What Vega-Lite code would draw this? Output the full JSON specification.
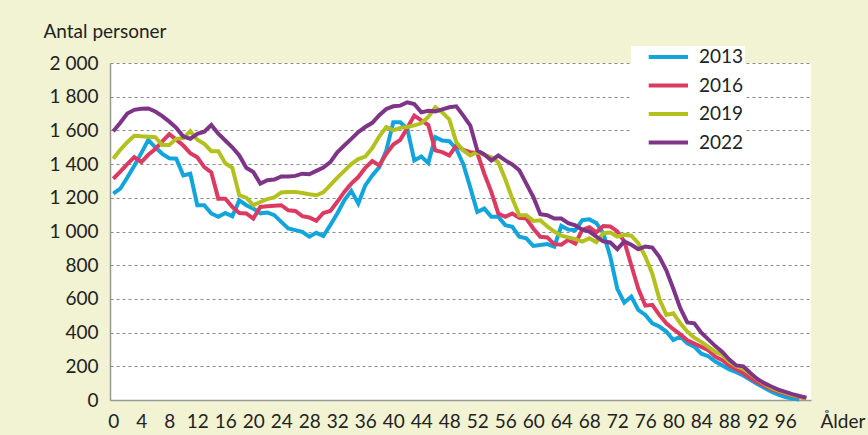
{
"$schema": "https://vega.github.io/schema/vega-lite/v6.json",
"width": 701, "height": 337,
"autosize": {"type": "none"},
"padding": {"left": 110, "top": 63, "right": 57, "bottom": 35},
"background": "#F2F3D3",
"config": {"view": {"fill": "white", "stroke": null}, "font": "Lato"},
"data": {"values": [
{"age":0,"year":"2013","value":1225},{"age":1,"year":"2013","value":1254},{"age":2,"year":"2013","value":1320},{"age":3,"year":"2013","value":1390},{"age":4,"year":"2013","value":1465},{"age":5,"year":"2013","value":1544},{"age":6,"year":"2013","value":1500},{"age":7,"year":"2013","value":1461},{"age":8,"year":"2013","value":1435},{"age":9,"year":"2013","value":1432},
{"age":10,"year":"2013","value":1333},{"age":11,"year":"2013","value":1343},{"age":12,"year":"2013","value":1156},{"age":13,"year":"2013","value":1156},{"age":14,"year":"2013","value":1107},{"age":15,"year":"2013","value":1087},{"age":16,"year":"2013","value":1110},{"age":17,"year":"2013","value":1090},{"age":18,"year":"2013","value":1185},{"age":19,"year":"2013","value":1156},
{"age":20,"year":"2013","value":1136},{"age":21,"year":"2013","value":1108},{"age":22,"year":"2013","value":1113},{"age":23,"year":"2013","value":1097},{"age":24,"year":"2013","value":1057},{"age":25,"year":"2013","value":1018},{"age":26,"year":"2013","value":1008},{"age":27,"year":"2013","value":998},{"age":28,"year":"2013","value":969},{"age":29,"year":"2013","value":992},
{"age":30,"year":"2013","value":973},{"age":31,"year":"2013","value":1038},{"age":32,"year":"2013","value":1107},{"age":33,"year":"2013","value":1185},{"age":34,"year":"2013","value":1241},{"age":35,"year":"2013","value":1166},{"age":36,"year":"2013","value":1274},{"age":37,"year":"2013","value":1333},{"age":38,"year":"2013","value":1382},{"age":39,"year":"2013","value":1481},
{"age":40,"year":"2013","value":1648},{"age":41,"year":"2013","value":1648},{"age":42,"year":"2013","value":1609},{"age":43,"year":"2013","value":1422},{"age":44,"year":"2013","value":1445},{"age":45,"year":"2013","value":1406},{"age":46,"year":"2013","value":1560},{"age":47,"year":"2013","value":1540},{"age":48,"year":"2013","value":1536},{"age":49,"year":"2013","value":1491},
{"age":50,"year":"2013","value":1400},{"age":51,"year":"2013","value":1260},{"age":52,"year":"2013","value":1116},{"age":53,"year":"2013","value":1136},{"age":54,"year":"2013","value":1087},{"age":55,"year":"2013","value":1087},{"age":56,"year":"2013","value":1038},{"age":57,"year":"2013","value":1028},{"age":58,"year":"2013","value":969},{"age":59,"year":"2013","value":959},
{"age":60,"year":"2013","value":914},{"age":61,"year":"2013","value":920},{"age":62,"year":"2013","value":925},{"age":63,"year":"2013","value":910},{"age":64,"year":"2013","value":1033},{"age":65,"year":"2013","value":1012},{"age":66,"year":"2013","value":1008},{"age":67,"year":"2013","value":1067},{"age":68,"year":"2013","value":1072},{"age":69,"year":"2013","value":1050},
{"age":70,"year":"2013","value":990},{"age":71,"year":"2013","value":850},{"age":72,"year":"2013","value":660},{"age":73,"year":"2013","value":578},{"age":74,"year":"2013","value":614},{"age":75,"year":"2013","value":535},{"age":76,"year":"2013","value":505},{"age":77,"year":"2013","value":455},{"age":78,"year":"2013","value":436},{"age":79,"year":"2013","value":406},
{"age":80,"year":"2013","value":356},{"age":81,"year":"2013","value":376},{"age":82,"year":"2013","value":337},{"age":83,"year":"2013","value":317},{"age":84,"year":"2013","value":275},{"age":85,"year":"2013","value":260},{"age":86,"year":"2013","value":228},{"age":87,"year":"2013","value":205},{"age":88,"year":"2013","value":182},{"age":89,"year":"2013","value":165},
{"age":90,"year":"2013","value":145},{"age":91,"year":"2013","value":120},{"age":92,"year":"2013","value":95},{"age":93,"year":"2013","value":72},{"age":94,"year":"2013","value":50},{"age":95,"year":"2013","value":32},{"age":96,"year":"2013","value":18},{"age":97,"year":"2013","value":8},{"age":98,"year":"2013","value":3},

{"age":0,"year":"2016","value":1313},{"age":1,"year":"2016","value":1355},{"age":2,"year":"2016","value":1400},{"age":3,"year":"2016","value":1441},{"age":4,"year":"2016","value":1412},{"age":5,"year":"2016","value":1455},{"age":6,"year":"2016","value":1490},{"age":7,"year":"2016","value":1535},{"age":8,"year":"2016","value":1578},{"age":9,"year":"2016","value":1545},
{"age":10,"year":"2016","value":1510},{"age":11,"year":"2016","value":1465},{"age":12,"year":"2016","value":1440},{"age":13,"year":"2016","value":1382},{"age":14,"year":"2016","value":1350},{"age":15,"year":"2016","value":1195},{"age":16,"year":"2016","value":1195},{"age":17,"year":"2016","value":1146},{"age":18,"year":"2016","value":1110},{"age":19,"year":"2016","value":1107},
{"age":20,"year":"2016","value":1077},{"age":21,"year":"2016","value":1146},{"age":22,"year":"2016","value":1150},{"age":23,"year":"2016","value":1153},{"age":24,"year":"2016","value":1156},{"age":25,"year":"2016","value":1126},{"age":26,"year":"2016","value":1122},{"age":27,"year":"2016","value":1091},{"age":28,"year":"2016","value":1083},{"age":29,"year":"2016","value":1063},
{"age":30,"year":"2016","value":1110},{"age":31,"year":"2016","value":1122},{"age":32,"year":"2016","value":1176},{"age":33,"year":"2016","value":1235},{"age":34,"year":"2016","value":1284},{"age":35,"year":"2016","value":1323},{"age":36,"year":"2016","value":1378},{"age":37,"year":"2016","value":1418},{"age":38,"year":"2016","value":1392},{"age":39,"year":"2016","value":1461},
{"age":40,"year":"2016","value":1516},{"age":41,"year":"2016","value":1544},{"age":42,"year":"2016","value":1615},{"age":43,"year":"2016","value":1688},{"age":44,"year":"2016","value":1660},{"age":45,"year":"2016","value":1632},{"age":46,"year":"2016","value":1481},{"age":47,"year":"2016","value":1471},{"age":48,"year":"2016","value":1451},{"age":49,"year":"2016","value":1510},
{"age":50,"year":"2016","value":1485},{"age":51,"year":"2016","value":1471},{"age":52,"year":"2016","value":1465},{"age":53,"year":"2016","value":1343},{"age":54,"year":"2016","value":1235},{"age":55,"year":"2016","value":1107},{"age":56,"year":"2016","value":1087},{"age":57,"year":"2016","value":1107},{"age":58,"year":"2016","value":1081},{"age":59,"year":"2016","value":1077},
{"age":60,"year":"2016","value":1018},{"age":61,"year":"2016","value":969},{"age":62,"year":"2016","value":965},{"age":63,"year":"2016","value":925},{"age":64,"year":"2016","value":922},{"age":65,"year":"2016","value":950},{"age":66,"year":"2016","value":928},{"age":67,"year":"2016","value":1010},{"age":68,"year":"2016","value":1025},{"age":69,"year":"2016","value":995},
{"age":70,"year":"2016","value":1032},{"age":71,"year":"2016","value":1030},{"age":72,"year":"2016","value":1000},{"age":73,"year":"2016","value":941},{"age":74,"year":"2016","value":800},{"age":75,"year":"2016","value":660},{"age":76,"year":"2016","value":560},{"age":77,"year":"2016","value":565},{"age":78,"year":"2016","value":505},{"age":79,"year":"2016","value":455},
{"age":80,"year":"2016","value":420},{"age":81,"year":"2016","value":390},{"age":82,"year":"2016","value":355},{"age":83,"year":"2016","value":335},{"age":84,"year":"2016","value":315},{"age":85,"year":"2016","value":295},{"age":86,"year":"2016","value":257},{"age":87,"year":"2016","value":236},{"age":88,"year":"2016","value":205},{"age":89,"year":"2016","value":182},
{"age":90,"year":"2016","value":160},{"age":91,"year":"2016","value":130},{"age":92,"year":"2016","value":105},{"age":93,"year":"2016","value":85},{"age":94,"year":"2016","value":65},{"age":95,"year":"2016","value":50},{"age":96,"year":"2016","value":38},{"age":97,"year":"2016","value":26},{"age":98,"year":"2016","value":18},{"age":99,"year":"2016","value":10},

{"age":0,"year":"2019","value":1432},{"age":1,"year":"2019","value":1485},{"age":2,"year":"2019","value":1530},{"age":3,"year":"2019","value":1568},{"age":4,"year":"2019","value":1565},{"age":5,"year":"2019","value":1563},{"age":6,"year":"2019","value":1560},{"age":7,"year":"2019","value":1514},{"age":8,"year":"2019","value":1514},{"age":9,"year":"2019","value":1550},
{"age":10,"year":"2019","value":1554},{"age":11,"year":"2019","value":1595},{"age":12,"year":"2019","value":1545},{"age":13,"year":"2019","value":1520},{"age":14,"year":"2019","value":1477},{"age":15,"year":"2019","value":1477},{"age":16,"year":"2019","value":1405},{"age":17,"year":"2019","value":1378},{"age":18,"year":"2019","value":1215},{"age":19,"year":"2019","value":1201},
{"age":20,"year":"2019","value":1156},{"age":21,"year":"2019","value":1175},{"age":22,"year":"2019","value":1192},{"age":23,"year":"2019","value":1202},{"age":24,"year":"2019","value":1232},{"age":25,"year":"2019","value":1235},{"age":26,"year":"2019","value":1235},{"age":27,"year":"2019","value":1228},{"age":28,"year":"2019","value":1221},{"age":29,"year":"2019","value":1215},
{"age":30,"year":"2019","value":1232},{"age":31,"year":"2019","value":1275},{"age":32,"year":"2019","value":1320},{"age":33,"year":"2019","value":1360},{"age":34,"year":"2019","value":1400},{"age":35,"year":"2019","value":1430},{"age":36,"year":"2019","value":1445},{"age":37,"year":"2019","value":1495},{"age":38,"year":"2019","value":1565},{"age":39,"year":"2019","value":1620},
{"age":40,"year":"2019","value":1600},{"age":41,"year":"2019","value":1615},{"age":42,"year":"2019","value":1620},{"age":43,"year":"2019","value":1630},{"age":44,"year":"2019","value":1642},{"age":45,"year":"2019","value":1680},{"age":46,"year":"2019","value":1737},{"age":47,"year":"2019","value":1707},{"age":48,"year":"2019","value":1665},{"age":49,"year":"2019","value":1530},
{"age":50,"year":"2019","value":1481},{"age":51,"year":"2019","value":1451},{"age":52,"year":"2019","value":1471},{"age":53,"year":"2019","value":1455},{"age":54,"year":"2019","value":1440},{"age":55,"year":"2019","value":1410},{"age":56,"year":"2019","value":1310},{"age":57,"year":"2019","value":1195},{"age":58,"year":"2019","value":1097},{"age":59,"year":"2019","value":1097},
{"age":60,"year":"2019","value":1063},{"age":61,"year":"2019","value":1067},{"age":62,"year":"2019","value":1030},{"age":63,"year":"2019","value":1000},{"age":64,"year":"2019","value":975},{"age":65,"year":"2019","value":965},{"age":66,"year":"2019","value":955},{"age":67,"year":"2019","value":940},{"age":68,"year":"2019","value":960},{"age":69,"year":"2019","value":937},
{"age":70,"year":"2019","value":990},{"age":71,"year":"2019","value":994},{"age":72,"year":"2019","value":970},{"age":73,"year":"2019","value":980},{"age":74,"year":"2019","value":975},{"age":75,"year":"2019","value":931},{"age":76,"year":"2019","value":851},{"age":77,"year":"2019","value":750},{"age":78,"year":"2019","value":600},{"age":79,"year":"2019","value":505},
{"age":80,"year":"2019","value":515},{"age":81,"year":"2019","value":455},{"age":82,"year":"2019","value":406},{"age":83,"year":"2019","value":370},{"age":84,"year":"2019","value":345},{"age":85,"year":"2019","value":315},{"age":86,"year":"2019","value":285},{"age":87,"year":"2019","value":267},{"age":88,"year":"2019","value":228},{"age":89,"year":"2019","value":200},
{"age":90,"year":"2019","value":185},{"age":91,"year":"2019","value":155},{"age":92,"year":"2019","value":122},{"age":93,"year":"2019","value":95},{"age":94,"year":"2019","value":72},{"age":95,"year":"2019","value":55},{"age":96,"year":"2019","value":42},{"age":97,"year":"2019","value":30},{"age":98,"year":"2019","value":20},{"age":99,"year":"2019","value":10},

{"age":0,"year":"2022","value":1595},{"age":1,"year":"2022","value":1645},{"age":2,"year":"2022","value":1700},{"age":3,"year":"2022","value":1722},{"age":4,"year":"2022","value":1728},{"age":5,"year":"2022","value":1730},{"age":6,"year":"2022","value":1712},{"age":7,"year":"2022","value":1685},{"age":8,"year":"2022","value":1652},{"age":9,"year":"2022","value":1615},
{"age":10,"year":"2022","value":1564},{"age":11,"year":"2022","value":1550},{"age":12,"year":"2022","value":1580},{"age":13,"year":"2022","value":1592},{"age":14,"year":"2022","value":1632},{"age":15,"year":"2022","value":1580},{"age":16,"year":"2022","value":1540},{"age":17,"year":"2022","value":1500},{"age":18,"year":"2022","value":1451},{"age":19,"year":"2022","value":1378},
{"age":20,"year":"2022","value":1353},{"age":21,"year":"2022","value":1284},{"age":22,"year":"2022","value":1304},{"age":23,"year":"2022","value":1308},{"age":24,"year":"2022","value":1327},{"age":25,"year":"2022","value":1327},{"age":26,"year":"2022","value":1330},{"age":27,"year":"2022","value":1343},{"age":28,"year":"2022","value":1340},{"age":29,"year":"2022","value":1360},
{"age":30,"year":"2022","value":1380},{"age":31,"year":"2022","value":1412},{"age":32,"year":"2022","value":1470},{"age":33,"year":"2022","value":1510},{"age":34,"year":"2022","value":1550},{"age":35,"year":"2022","value":1590},{"age":36,"year":"2022","value":1620},{"age":37,"year":"2022","value":1645},{"age":38,"year":"2022","value":1690},{"age":39,"year":"2022","value":1727},
{"age":40,"year":"2022","value":1743},{"age":41,"year":"2022","value":1747},{"age":42,"year":"2022","value":1767},{"age":43,"year":"2022","value":1757},{"age":44,"year":"2022","value":1707},{"age":45,"year":"2022","value":1717},{"age":46,"year":"2022","value":1713},{"age":47,"year":"2022","value":1725},{"age":48,"year":"2022","value":1737},{"age":49,"year":"2022","value":1743},
{"age":50,"year":"2022","value":1688},{"age":51,"year":"2022","value":1629},{"age":52,"year":"2022","value":1481},{"age":53,"year":"2022","value":1457},{"age":54,"year":"2022","value":1422},{"age":55,"year":"2022","value":1451},{"age":56,"year":"2022","value":1422},{"age":57,"year":"2022","value":1398},{"age":58,"year":"2022","value":1363},{"age":59,"year":"2022","value":1284},
{"age":60,"year":"2022","value":1205},{"age":61,"year":"2022","value":1103},{"age":62,"year":"2022","value":1097},{"age":63,"year":"2022","value":1077},{"age":64,"year":"2022","value":1077},{"age":65,"year":"2022","value":1050},{"age":66,"year":"2022","value":1036},{"age":67,"year":"2022","value":1011},{"age":68,"year":"2022","value":999},{"age":69,"year":"2022","value":970},
{"age":70,"year":"2022","value":941},{"age":71,"year":"2022","value":935},{"age":72,"year":"2022","value":895},{"age":73,"year":"2022","value":941},{"age":74,"year":"2022","value":921},{"age":75,"year":"2022","value":895},{"age":76,"year":"2022","value":911},{"age":77,"year":"2022","value":905},{"age":78,"year":"2022","value":850},{"age":79,"year":"2022","value":770},
{"age":80,"year":"2022","value":660},{"age":81,"year":"2022","value":545},{"age":82,"year":"2022","value":460},{"age":83,"year":"2022","value":455},{"age":84,"year":"2022","value":400},{"age":85,"year":"2022","value":360},{"age":86,"year":"2022","value":320},{"age":87,"year":"2022","value":285},{"age":88,"year":"2022","value":240},{"age":89,"year":"2022","value":205},
{"age":90,"year":"2022","value":200},{"age":91,"year":"2022","value":160},{"age":92,"year":"2022","value":125},{"age":93,"year":"2022","value":100},{"age":94,"year":"2022","value":80},{"age":95,"year":"2022","value":62},{"age":96,"year":"2022","value":48},{"age":97,"year":"2022","value":35},{"age":98,"year":"2022","value":24},{"age":99,"year":"2022","value":14}
]},
"mark": {"type": "line", "strokeWidth": 4, "clip": false},
"encoding": {
  "x": {"field": "age", "type": "quantitative",
    "scale": {"domain": [-0.47, 99.67], "nice": false, "zero": false},
    "axis": {"values": [0,4,8,12,16,20,24,28,32,36,40,44,48,52,56,60,64,68,72,76,80,84,88,92,96],
      "title": "Ålder", "titleX": 710, "titleY": 27, "titleAlign": "left", "titleBaseline": "alphabetic", "titleAngle": 0,
      "titleFontSize": 19, "titleFontWeight": "normal", "titleColor": "#222", "titleFont": "Lato",
      "labelFontSize": 19, "labelColor": "#222", "labelFont": "Lato", "labelBaseline": "alphabetic", "labelPadding": 27, "labelOffset": 0,
      "ticks": false, "tickSize": 0, "grid": false, "domainColor": "#999999", "domainWidth": 1.5,
      "labelFlush": false, "labelOverlap": false, "labelBound": false}},
  "y": {"field": "value", "type": "quantitative",
    "scale": {"domain": [0, 2000], "nice": false},
    "axis": {"values": [0,200,400,600,800,1000,1200,1400,1600,1800,2000],
      "title": "Antal personer", "titleAngle": 0, "titleX": -67, "titleY": -26, "titleAlign": "left", "titleBaseline": "alphabetic",
      "titleFontSize": 19, "titleFontWeight": "normal", "titleColor": "#222", "titleFont": "Lato",
      "labelFontSize": 19, "labelColor": "#222", "labelFont": "Lato", "labelPadding": 12,
      "labelExpr": "replace(format(datum.value, ','), ',', ' ')",
      "ticks": false, "tickSize": 0, "grid": true, "gridColor": "#8a8a8a", "gridDash": [3, 3], "gridWidth": 1,
      "domainColor": "#999999", "domainWidth": 1.5}},
  "color": {"field": "year", "type": "nominal",
    "scale": {"domain": ["2013","2016","2019","2022"], "range": ["#12A4DD","#DC3A63","#B3C11E","#7E3587"]},
    "legend": {"orient": "none", "legendX": 521, "legendY": -17, "direction": "vertical", "title": null,
      "fillColor": "white", "padding": 1, "symbolType": "M0.84,0H5.75", "symbolSize": 256, "symbolStrokeWidth": 4,
      "labelFontSize": 19, "labelColor": "#222", "labelFont": "Lato", "labelOffset": 47, "rowPadding": 8.5,
      "labelExpr": "datum.label + '\u00a0\u00a0\u00a0'"}}
}
}
